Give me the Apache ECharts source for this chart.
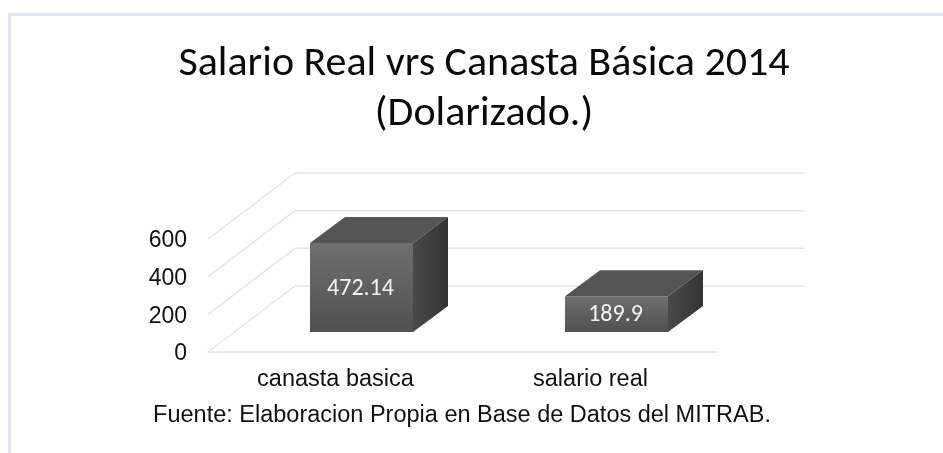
<!DOCTYPE html>
<html>
<head>
<meta charset="utf-8">
<style>html,body{margin:0;padding:0;background:#fff}#c{width:943px;height:453px}</style>
<script src="https://cdn.jsdelivr.net/npm/echarts@6/dist/echarts.min.js"></script>
</head>
<body>
<div id="c"></div>
<script>
const categories = ['canasta basica', 'salario real'];
const values = [472.14, 189.9];
const valueTicks = [0, 200, 400, 600];
const titleLines = ['Salario Real vrs Canasta Básica 2014', '(Dolarizado.)'];
const sourceNote = 'Fuente: Elaboracion Propia en Base de Datos del MITRAB.';

// 3D look: oblique offsets of the back wall and the bars
const wallDepth = [87, -66];
const barInset = [26, -20];
const barDepth = [35, -26];
const barWidth = 103;
const gridColor = '#e3e5ee';

function renderWall(params, api) {
  const v = api.value(0);
  const cs = params.coordSys;
  const y = api.coord([0, v])[1];
  const x0 = cs.x, x1 = cs.x + cs.width;
  const bx0 = x0 + wallDepth[0], bx1 = x1 + wallDepth[0], by = y + wallDepth[1];
  const line = (a, b, c, d) => ({
    type: 'line', shape: {x1: a, y1: b, x2: c, y2: d},
    style: {stroke: gridColor, lineWidth: 1.5}
  });
  return {type: 'group', children: [line(x0, y, bx0, by), line(bx0, by, bx1, by)]};
}

function renderBar(params, api) {
  const top = api.coord([api.value(0), api.value(1)]);
  const bot = api.coord([api.value(0), 0]);
  const cx = top[0] + barInset[0];
  const l = cx - barWidth / 2, r = cx + barWidth / 2;
  const t = top[1] + barInset[1], b = bot[1] + barInset[1];
  const dx = barDepth[0], dy = barDepth[1];
  const grad = (x2, y2, c0, c1) => ({type: 'linear', x: 0, y: 0, x2, y2,
    colorStops: [{offset: 0, color: c0}, {offset: 1, color: c1}]});
  return {type: 'group', children: [
    {type: 'polygon', shape: {points: [[l, t], [l + dx, t + dy], [r + dx, t + dy], [r, t]]},
      style: {fill: '#555555'}},
    {type: 'polygon', shape: {points: [[r, t], [r + dx, t + dy], [r + dx, b + dy], [r, b]]},
      style: {fill: grad(1, 0, '#4a4a4a', '#333333')}},
    {type: 'rect', shape: {x: l, y: t, width: r - l, height: b - t},
      style: {fill: grad(0, 1, '#707070', '#505050')}},
    {type: 'text', style: {
      x: cx - 1, y: (t + b) / 2 + 1, text: String(api.value(1)),
      fill: '#f2f2f2', font: '24px Carlito, Lato, sans-serif',
      align: 'center', verticalAlign: 'middle'}}
  ]};
}

const chart = echarts.init(document.getElementById('c'), null, {renderer: 'canvas'});
chart.setOption({
  animation: false,
  backgroundColor: '#ffffff',
  graphic: [
    {type: 'polyline', shape: {points: [[9.5, 460], [9.5, 14.5], [950, 14.5]]},
      style: {stroke: '#e1e5ef', lineWidth: 3, fill: 'none'}, silent: true}
  ],
  title: [
    {text: titleLines.join('\n'), left: 479, top: 34, textAlign: 'center',
      textStyle: {fontFamily: 'Carlito, Lato, sans-serif', fontSize: 42, fontWeight: 'normal',
        color: '#0a0a0a', lineHeight: 50}},
    {text: sourceNote, left: 457, top: 399, textAlign: 'center',
      textStyle: {fontFamily: '"Liberation Sans", sans-serif', fontSize: 23.5, fontWeight: 'normal',
        color: '#111111'}}
  ],
  grid: {left: 208, top: 239, width: 510, height: 113, containLabel: false},
  xAxis: {
    type: 'category', data: categories,
    axisTick: {show: false},
    axisLine: {lineStyle: {color: '#e6e9f0', width: 2}},
    axisLabel: {fontFamily: '"Liberation Sans", sans-serif', fontSize: 23.5, color: '#111', margin: 16}
  },
  yAxis: {
    type: 'value', min: 0, max: 600, interval: 200,
    splitLine: {show: false}, axisLine: {show: false}, axisTick: {show: false},
    axisLabel: {margin: 21, formatter: '{a|{value}}',
      rich: {a: {fontFamily: '"Liberation Sans", sans-serif', fontSize: 23, color: '#111',
        padding: [4, 0, 0, 0]}}}
  },
  series: [
    {type: 'custom', data: valueTicks.map(v => [v]), renderItem: renderWall, silent: true, clip: false, z: 1,
      encode: {y: 0}},
    {type: 'custom', data: categories.map((c, i) => [i, values[i]]), renderItem: renderBar, clip: false, z: 2,
      encode: {x: 0, y: 1}}
  ]
});
</script>
</body>
</html>
